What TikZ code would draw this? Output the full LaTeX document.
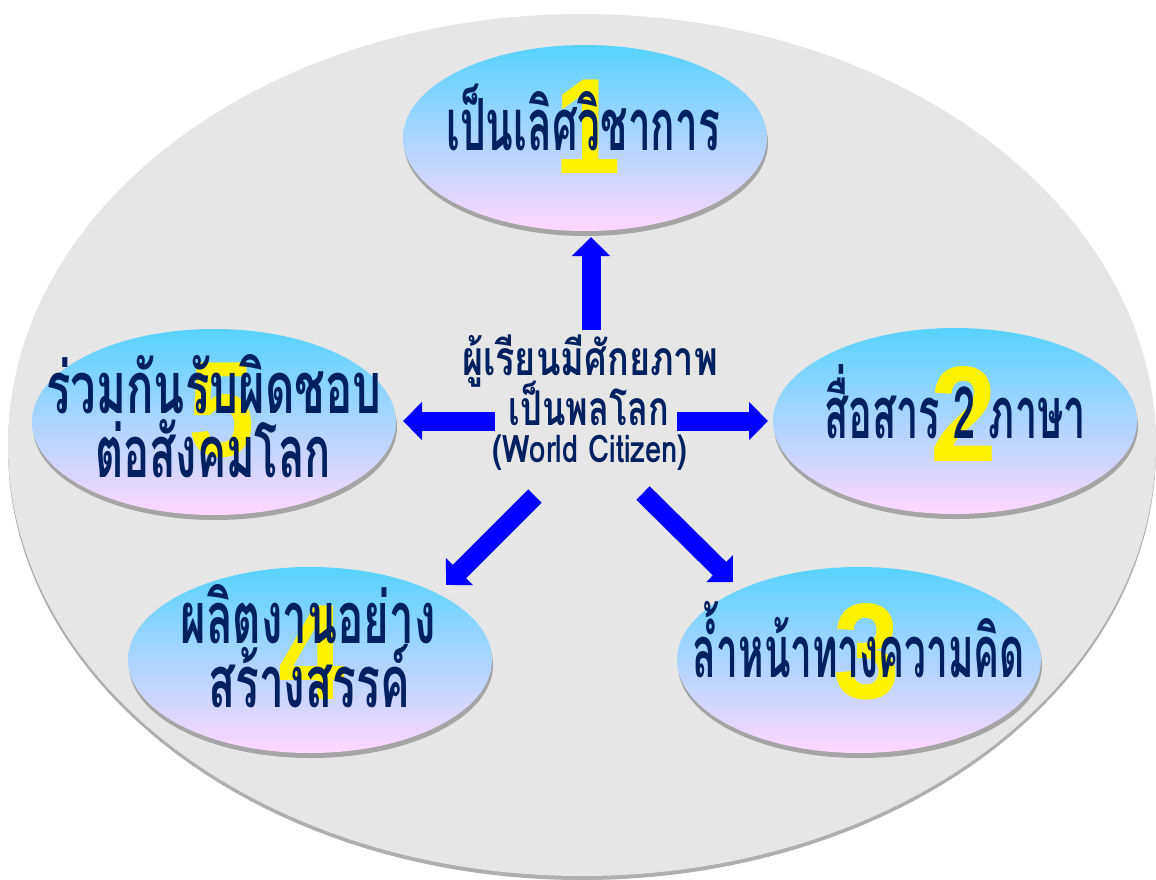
\documentclass[tikz,border=0pt]{standalone}
\usepackage{fontspec}
\usetikzlibrary{shapes.geometric,arrows.meta,shadows}
\newfontfamily\thaifont[Script=Thai,FakeStretch=0.58]{Loma}
\newfontfamily\cenfont[Script=Thai,FakeStretch=0.75]{Loma}
\newfontfamily\latfont[Script=Thai,FakeStretch=0.77]{Loma}
\newfontfamily\numfont[FakeStretch=0.88]{Liberation Sans}
\definecolor{navy}{RGB}{0,32,96}
\definecolor{bggray}{RGB}{230,230,230}
\definecolor{shgray}{RGB}{165,165,165}
\definecolor{topcyan}{RGB}{87,211,255}
\definecolor{midblue}{RGB}{192,210,255}
\definecolor{botpink}{RGB}{255,215,255}
\definecolor{arrowblue}{RGB}{0,0,255}
\newcommand{\sx}[2]{\scalebox{#1}[1]{#2}}
\tikzset{
  bub/.style={ellipse, inner sep=0pt, minimum width=364pt, minimum height=186pt,
    top color=topcyan, middle color=midblue, bottom color=botpink,
    drop shadow={shadow xshift=1pt, shadow yshift=-5pt, fill=shgray, opacity=1}},
  bignum/.style={text=yellow, font=\numfont\bfseries\fontsize{136}{136}\selectfont, anchor=center},
  bubtext/.style={text=navy, font=\thaifont\bfseries\fontsize{72}{72}\selectfont, anchor=base, inner sep=0pt},
  ctext/.style={text=navy, font=\cenfont\bfseries\fontsize{48}{48}\selectfont, anchor=base, inner sep=0pt},
  wtext/.style={text=navy, font=\latfont\bfseries\fontsize{38}{38}\selectfont, anchor=base, inner sep=0pt},
  blockarrow/.style={draw=arrowblue, line width=19pt, -{Triangle[width=37pt,length=19pt]}}
}
\begin{document}
\begin{tikzpicture}[x=1pt,y=-1pt]
\useasboundingbox (0,0) rectangle (1156,879);
% background ellipse
\node[ellipse, inner sep=0pt, minimum width=1148pt, minimum height=862pt, fill=bggray,
  drop shadow={shadow xshift=0pt, shadow yshift=-4pt, fill={rgb,255:red,175;green,175;blue,175}, opacity=1}] (bg) at (582,445) {};
% bubbles
\node[bub] (e1) at (585,138) {};
\node[bub] (e2) at (955,421) {};
\node[bub] (e3) at (859,660) {};
\node[bub] (e4) at (310,660) {};
\node[bub] (e5) at (214,422) {};
% numbers
\node[bignum] (n1) at (588,127) {1};
\node[bignum] (n2) at (964,414) {2};
\node[bignum] (n3) at (867,652) {3};
\node[bignum] (n4) at (312,653) {4};
\node[bignum] (n5) at (222,410) {5};
% texts
\node[bubtext] (t1) at (583,150) {\sx{0.97}{เป็นเลิศวิชาการ}};
\node[bubtext] (t2) at (955,438) {\sx{0.95}{สื่อสาร 2 ภาษา}};
\node[bubtext] (t3) at (859,677) {\sx{0.93}{ล้ำหน้าทางความคิด}};
\node[bubtext] (t4a) at (308,643) {\sx{1.05}{ผลิตงานอย่าง}};
\node[bubtext] (t4b) at (309,707) {\sx{1.06}{สร้างสรรค์}};
\node[bubtext] (t5a) at (214,413) {\sx{1.09}{ร่วมกันรับผิดชอบ}};
\node[bubtext] (t5b) at (213,477) {\sx{1.04}{ต่อสังคมโลก}};
% centre
\node[ctext] (c1) at (590,375) {ผู้เรียนมีศักยภาพ};
\node[ctext] (c2) at (589,425) {\sx{0.95}{เป็นพลโลก}};
\node[wtext] (c3) at (590,462) {(World Citizen)};
% arrow anchors
\coordinate (a1s) at (591,330); \coordinate (a1e) at (591,237);
\coordinate (a2s) at (677,421); \coordinate (a2e) at (768,421);
\coordinate (a3s) at (643,493); \coordinate (a3e) at (733,582);
\coordinate (a4s) at (535,496); \coordinate (a4e) at (446,585);
\coordinate (a5s) at (495,421); \coordinate (a5e) at (403,421);
\draw[blockarrow] (a1s) -- (a1e);
\draw[blockarrow] (a2s) -- (a2e);
\draw[blockarrow] (a3s) -- (a3e);
\draw[blockarrow] (a4s) -- (a4e);
\draw[blockarrow] (a5s) -- (a5e);
\end{tikzpicture}
\end{document}
